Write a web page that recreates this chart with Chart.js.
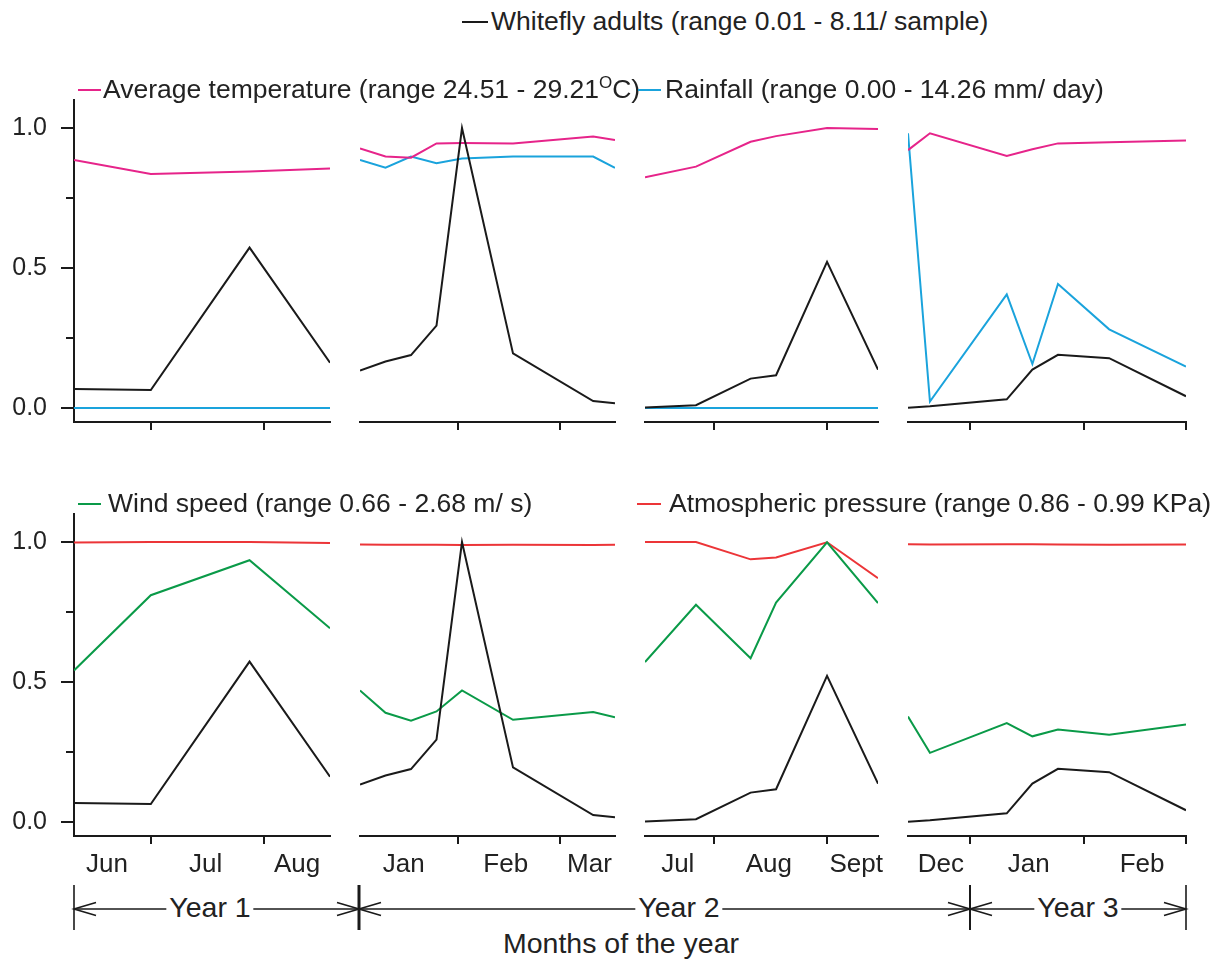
<!DOCTYPE html>
<html>
<head>
    <title>Whitefly adults and weather</title>
    <script src="https://cdn.jsdelivr.net/npm/chart.js"></script>
    <style>
        body {
            margin: 0;
            background: #fff;
            font-family: "Liberation Sans", Arial, sans-serif;
            color: #222;
        }
        #page {
            position: relative;
            width: 1226px;
            height: 963px;
            overflow: hidden;
        }
        .panel { position: absolute; }
        .legend {
            position: absolute;
            font-size: 26.5px;
            line-height: 32px;
            white-space: nowrap;
        }
        .swatch { position: absolute; height: 2px; }
        .sup { font-size: 17px; vertical-align: 10px; line-height: 0; }
        .year {
            position: absolute;
            transform: translateX(-50%);
            font-size: 28.5px;
            line-height: 34px;
            background: #fff;
            padding: 0 3px;
            white-space: nowrap;
        }
    </style>
</head>
<body>
<div id="page">
    <svg id="years" width="1226" height="963" style="position:absolute;left:0;top:0"></svg>
</div>

<script>
    // sampling days (day of year, Year 3 continues past Dec 31)
    const daysY1 = [161, 182, 209, 231];
    const daysY2a = [5, 12, 19, 26, 33, 47, 69, 75];
    const daysY2b = [194, 208, 223, 230, 244, 258];
    const daysY3 = [349, 355, 376, 383, 390, 404, 425];

    // normalised values (0-1) per sampling day
    const whiteflyY1 = [0.068, 0.064, 0.573, 0.162];
    const whiteflyY2a = [0.134, 0.166, 0.189, 0.294, 1.0, 0.195, 0.025, 0.017];
    const whiteflyY2b = [0.002, 0.010, 0.105, 0.117, 0.522, 0.137];
    const whiteflyY3 = [0.001, 0.006, 0.031, 0.137, 0.190, 0.178, 0.042];

    const temperatureY1 = [0.886, 0.836, 0.845, 0.855];
    const temperatureY2a = [0.927, 0.898, 0.894, 0.945, 0.946, 0.945, 0.970, 0.957];
    const temperatureY2b = [0.824, 0.862, 0.951, 0.971, 1.0, 0.996];
    const temperatureY3 = [0.921, 0.981, 0.900, 0.924, 0.945, 0.949, 0.955];

    const rainfallY1 = [0, 0, 0, 0];
    const rainfallY2a = [0.886, 0.858, 0.898, 0.874, 0.891, 0.898, 0.898, 0.858];
    const rainfallY2b = [0, 0, 0, 0, 0, 0];
    const rainfallY3 = [0.981, 0.023, 0.406, 0.157, 0.443, 0.281, 0.148];

    const windY1 = [0.541, 0.810, 0.935, 0.692];
    const windY2a = [0.470, 0.390, 0.362, 0.395, 0.470, 0.365, 0.393, 0.374];
    const windY2b = [0.571, 0.776, 0.585, 0.784, 0.999, 0.782];
    const windY3 = [0.377, 0.247, 0.353, 0.306, 0.330, 0.312, 0.348];

    const pressureY1 = [0.998, 1.0, 1.0, 0.996];
    const pressureY2a = [0.991, 0.990, 0.990, 0.990, 0.989, 0.990, 0.989, 0.990];
    const pressureY2b = [1.0, 1.0, 0.938, 0.945, 0.999, 0.871];
    const pressureY3 = [0.992, 0.991, 0.992, 0.992, 0.991, 0.990, 0.991];

    // first day of each month inside a panel (tick marks)
    const monthStartsY1 = [182, 213];
    const monthStartsY2a = [32, 60];
    const monthStartsY2b = [213, 244];
    const monthStartsY3 = [366, 397, 425];

    // month names and where they sit
    const monthNamesY1 = ['Jun', 'Jul', 'Aug'];
    const monthNamesY2a = ['Jan', 'Feb', 'Mar'];
    const monthNamesY2b = ['Jul', 'Aug', 'Sept'];
    const monthNamesY3 = ['Dec', 'Jan', 'Feb'];
    const monthLabelDaysY1 = [170, 197, 222];
    const monthLabelDaysY2a = [17, 45, 68];
    const monthLabelDaysY2b = [203, 228, 252];
    const monthLabelDaysY3 = [358, 382, 413];

    const yTicks = [0, 0.5, 1.0];
    const yMinorTicks = [0.25, 0.75];

    const colors = {
        whitefly: '#1a1a1a',
        temperature: '#e6248a',
        rainfall: '#1aa3dc',
        wind: '#0a9a48',
        pressure: '#ec3538'
    };
    const font = '"Liberation Sans", Arial, sans-serif';
    const ink = '#1a1a1a';

    const periods = [
        { days: daysY1, whitefly: whiteflyY1, temperature: temperatureY1, rainfall: rainfallY1, wind: windY1, pressure: pressureY1, starts: monthStartsY1, names: monthNamesY1, labelDays: monthLabelDaysY1 },
        { days: daysY2a, whitefly: whiteflyY2a, temperature: temperatureY2a, rainfall: rainfallY2a, wind: windY2a, pressure: pressureY2a, starts: monthStartsY2a, names: monthNamesY2a, labelDays: monthLabelDaysY2a },
        { days: daysY2b, whitefly: whiteflyY2b, temperature: temperatureY2b, rainfall: rainfallY2b, wind: windY2b, pressure: pressureY2b, starts: monthStartsY2b, names: monthNamesY2b, labelDays: monthLabelDaysY2b },
        { days: daysY3, whitefly: whiteflyY3, temperature: temperatureY3, rainfall: rainfallY3, wind: windY3, pressure: pressureY3, starts: monthStartsY3, names: monthNamesY3, labelDays: monthLabelDaysY3 }
    ];

    const rows = [
        { top: 100, height: 322, series: ['whitefly', 'temperature', 'rainfall'], months: false },
        { top: 514, height: 322, series: ['whitefly', 'wind', 'pressure'], months: true }
    ];
    const panelLeft = [74, 360, 645, 908];
    const panelRight = [330, 615, 878, 1186];

    // short minor ticks on the left axis
    const minorTicks = {
        id: 'minorTicks',
        afterDraw(chart) {
            const y = chart.scales.y;
            if (!y.options.display) return;
            const ctx = chart.ctx;
            ctx.save();
            ctx.strokeStyle = ink;
            ctx.lineWidth = 2;
            yMinorTicks.forEach(v => {
                const py = Math.round(y.getPixelForValue(v));
                ctx.beginPath();
                ctx.moveTo(y.right - 8, py);
                ctx.lineTo(y.right, py);
                ctx.stroke();
            });
            ctx.restore();
        }
    };

    const page = document.getElementById('page');

    function makePanel(row, col) {
        const p = periods[col];
        const first = col === 0;
        const yAxisW = first ? 74 : 0;
        const padL = first ? 0 : 10, padR = 10, padT = 20;
        const axisH = row.months ? 50 : 12;

        const div = document.createElement('div');
        div.className = 'panel';
        div.style.left = (panelLeft[col] - yAxisW - padL) + 'px';
        div.style.top = (row.top - padT) + 'px';
        div.style.width = (yAxisW + padL + panelRight[col] - panelLeft[col] + padR) + 'px';
        div.style.height = (padT + row.height + axisH) + 'px';
        const canvas = document.createElement('canvas');
        div.appendChild(canvas);
        page.appendChild(div);

        const scales = {
            x: {
                type: 'linear',
                min: p.days[0],
                max: p.days[p.days.length - 1],
                afterBuildTicks: s => { s.ticks = p.starts.map(v => ({ value: v })); },
                afterFit: s => { s.height = row.months ? 10 : 12; s.paddingLeft = 0; s.paddingRight = 0; },
                ticks: { display: false },
                grid: { drawOnChartArea: false, tickLength: 8, color: ink, lineWidth: 2 },
                border: { display: true, color: ink, width: 2 }
            },
            y: {
                display: first,
                min: -0.05,
                max: 1.1,
                afterBuildTicks: s => { s.ticks = yTicks.map(v => ({ value: v })); },
                afterFit: s => { s.width = yAxisW; s.paddingTop = 0; s.paddingBottom = 0; },
                ticks: {
                    padding: 14,
                    color: '#222',
                    font: { family: font, size: 25 },
                    callback: v => v.toFixed(1)
                },
                grid: { drawOnChartArea: false, tickLength: 13, color: ink, lineWidth: 2 },
                border: { color: ink, width: 2 }
            }
        };
        if (row.months) {
            scales.xm = {
                type: 'linear',
                position: 'bottom',
                weight: 1,
                min: p.days[0],
                max: p.days[p.days.length - 1],
                afterBuildTicks: s => { s.ticks = p.labelDays.map(v => ({ value: v })); },
                afterFit: s => { s.height = 40; s.paddingLeft = 0; s.paddingRight = 0; },
                ticks: {
                    autoSkip: false,
                    maxRotation: 0,
                    padding: 3,
                    color: '#222',
                    font: { family: font, size: 26 },
                    callback: (v, i) => p.names[i]
                },
                grid: { display: false, drawTicks: false },
                border: { display: false }
            };
        }

        new Chart(canvas.getContext('2d'), {
            type: 'line',
            data: {
                datasets: row.series.map(key => ({
                    label: key,
                    data: p.days.map((d, i) => ({ x: d, y: p[key][i] })),
                    borderColor: colors[key],
                    borderWidth: 2,
                    pointRadius: 0,
                    tension: 0,
                    fill: false
                }))
            },
            options: {
                responsive: true,
                maintainAspectRatio: false,
                animation: false,
                events: [],
                layout: { padding: { left: padL, right: padR, top: padT, bottom: 0 } },
                plugins: { legend: { display: false }, tooltip: { enabled: false } },
                scales: scales
            },
            plugins: [minorTicks]
        });
    }

    rows.forEach(row => periods.forEach((p, col) => makePanel(row, col)));

    // legend entries
    const legendItems = [
        { color: colors.whitefly, from: 462, to: 488, lineY: 22, textX: 491, baseline: 30.5, html: 'Whitefly adults (range 0.01 - 8.11/ sample)' },
        { color: colors.temperature, from: 78, to: 101, lineY: 90, textX: 103, baseline: 98.3, html: 'Average temperature (range 24.51 - 29.21<span class="sup">O</span>C)' },
        { color: colors.rainfall, from: 638, to: 661, lineY: 90, textX: 665, baseline: 98.3, html: 'Rainfall (range 0.00 - 14.26 mm/ day)' },
        { color: colors.wind, from: 78, to: 101, lineY: 504, textX: 108, baseline: 512, html: 'Wind speed (range 0.66 - 2.68 m/ s)' },
        { color: colors.pressure, from: 637, to: 661, lineY: 504, textX: 669, baseline: 512, html: 'Atmospheric pressure (range 0.86 - 0.99 KPa)' }
    ];
    legendItems.forEach(item => {
        const sw = document.createElement('div');
        sw.className = 'swatch';
        sw.style.left = item.from + 'px';
        sw.style.width = (item.to - item.from) + 'px';
        sw.style.top = (item.lineY - 1) + 'px';
        sw.style.background = item.color;
        page.appendChild(sw);
        const t = document.createElement('div');
        t.className = 'legend';
        t.style.left = item.textX + 'px';
        t.style.top = (item.baseline - 25.2) + 'px';
        t.innerHTML = item.html;
        page.appendChild(t);
    });

    // year brackets under the month labels
    const svg = document.getElementById('years');
    const ns = 'http://www.w3.org/2000/svg';
    function line(x1, y1, x2, y2, w) {
        const l = document.createElementNS(ns, 'line');
        l.setAttribute('x1', x1); l.setAttribute('y1', y1);
        l.setAttribute('x2', x2); l.setAttribute('y2', y2);
        l.setAttribute('stroke', ink); l.setAttribute('stroke-width', w);
        svg.appendChild(l);
    }
    function arrow(tip, dir) {
        const p = document.createElementNS(ns, 'polyline');
        const bx = tip - dir * 22;
        p.setAttribute('points', `${bx},902.5 ${tip},909 ${bx},915.5`);
        p.setAttribute('fill', 'none');
        p.setAttribute('stroke', ink);
        p.setAttribute('stroke-width', 1.6);
        svg.appendChild(p);
    }
    const yearEdges = [74, 359, 970, 1186];
    const edgeWidths = [1.6, 3, 2, 1.6];
    yearEdges.forEach((x, i) => line(x, 885, x, 930, edgeWidths[i]));
    line(74, 909, 1186, 909, 1.6);
    arrow(74, -1); arrow(359, 1); arrow(359, -1); arrow(970, 1); arrow(970, -1); arrow(1186, 1);

    const yearLabels = [
        { text: 'Year 1', x: 210 },
        { text: 'Year 2', x: 679 },
        { text: 'Year 3', x: 1078 }
    ];
    yearLabels.forEach(y => {
        const d = document.createElement('div');
        d.className = 'year';
        d.style.left = y.x + 'px';
        d.style.top = (917 - 26.9) + 'px';
        d.textContent = y.text;
        page.appendChild(d);
    });
    const title = document.createElement('div');
    title.className = 'year';
    title.style.left = '621px';
    title.style.top = (953 - 26.9) + 'px';
    title.style.background = 'transparent';
    title.textContent = 'Months of the year';
    page.appendChild(title);
</script>
</body>
</html>
